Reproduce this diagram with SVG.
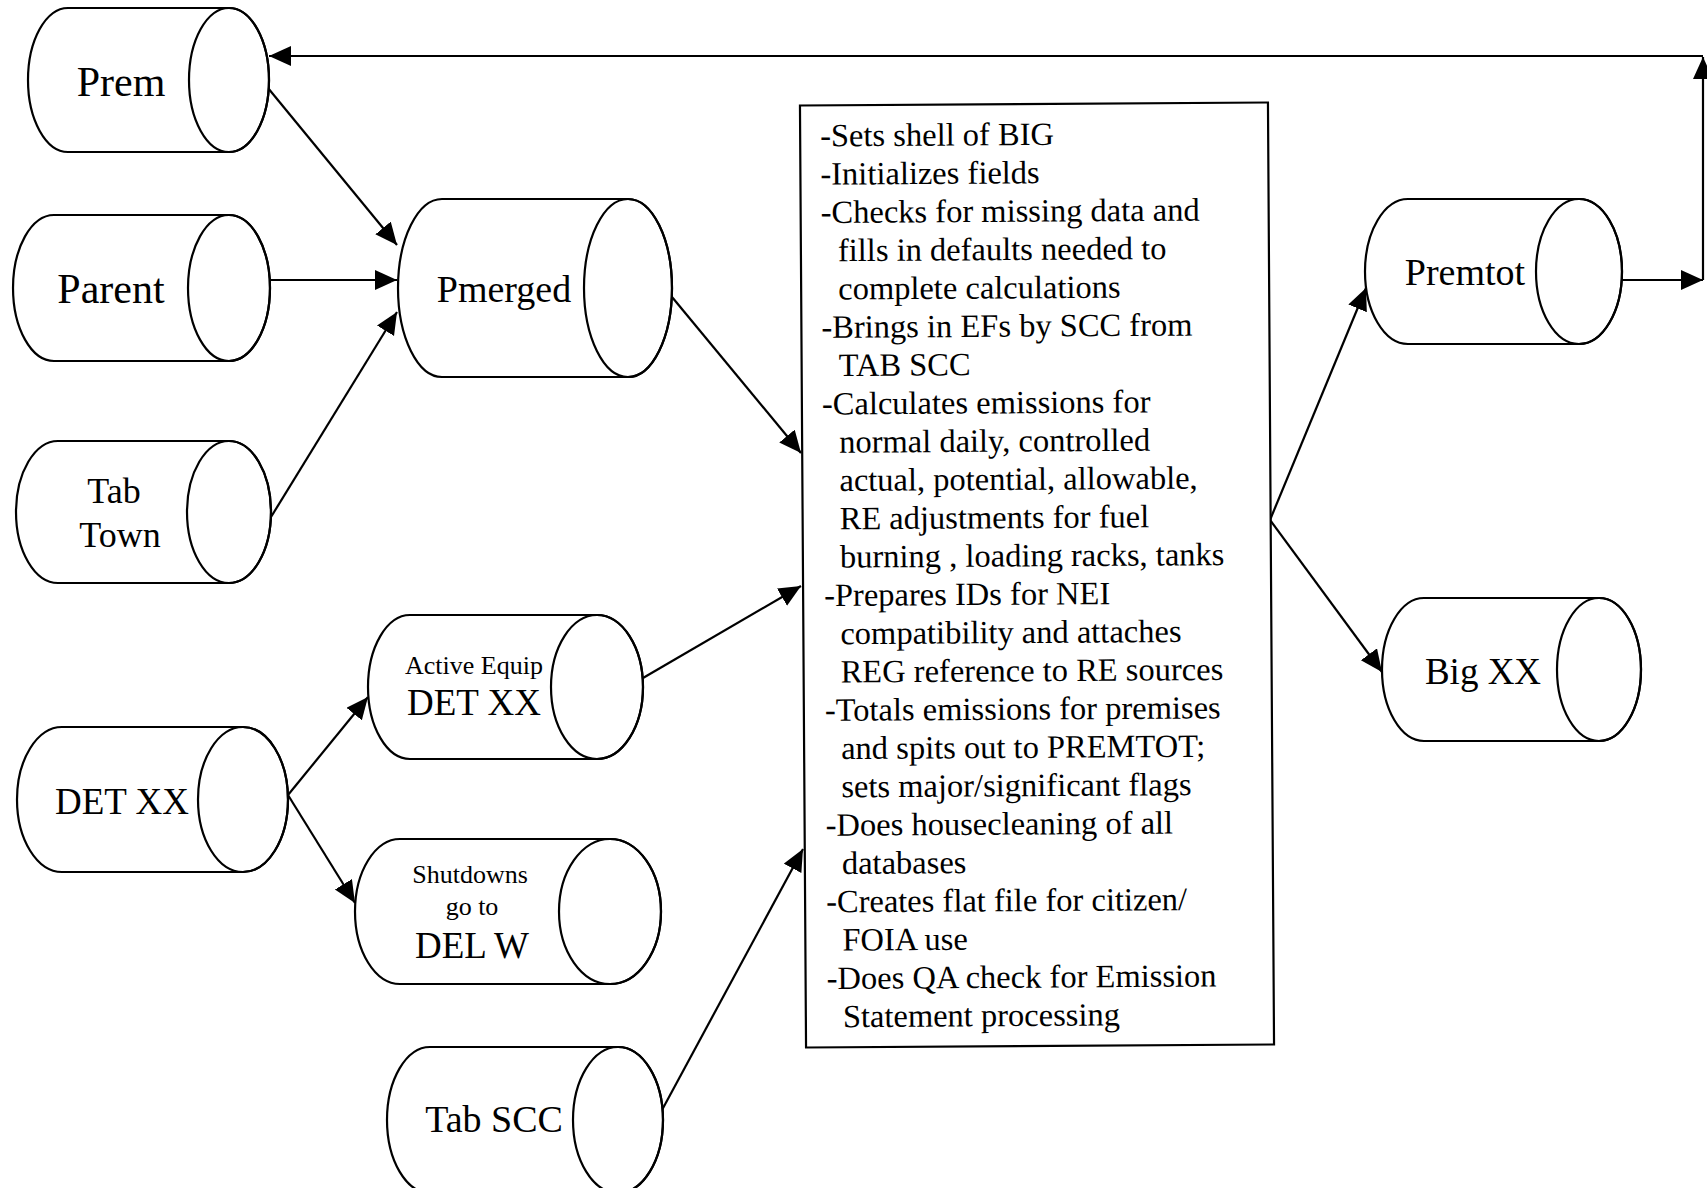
<svg xmlns="http://www.w3.org/2000/svg" width="1707" height="1188" viewBox="0 0 1707 1188">
  <defs>
    <marker id="arrow" markerUnits="userSpaceOnUse" markerWidth="24" markerHeight="22" refX="22" refY="10" orient="auto">
      <path d="M0,0 L22,10 L0,20 z" fill="#000"/>
    </marker>
    <style>
      .cyl { fill: #fff; stroke: #000; stroke-width: 2.2; }
      .end { fill: none; stroke: #000; stroke-width: 2.2; }
      .lbl { font-family: "Liberation Serif", "Times New Roman", serif; fill: #000; text-anchor: middle; }
      .body { font-family: "Liberation Serif", "Times New Roman", serif; fill: #000; font-size: 32.5px; }
      .link { stroke: #000; stroke-width: 2.2; fill: none; marker-end: url(#arrow); }
      .plain { stroke: #000; stroke-width: 2.2; fill: none; }
      .box { fill: #fff; stroke: #000; stroke-width: 2.2; }
    </style>
  </defs>
  <rect width="1707" height="1188" fill="#fff"/>

  <!-- connectors -->
  <g id="connectors">
    <line class="link" x1="268" y1="88" x2="397" y2="245"/>
    <line class="link" x1="270" y1="280" x2="397" y2="280"/>
    <line class="link" x1="271" y1="517" x2="397" y2="312"/>
    <line class="link" x1="672" y1="297" x2="801" y2="453"/>
    <line class="link" x1="643" y1="678" x2="801" y2="586"/>
    <line class="link" x1="662" y1="1110" x2="803" y2="849"/>
    <line class="link" x1="288" y1="795" x2="368" y2="697"/>
    <line class="link" x1="288" y1="795" x2="355" y2="903"/>
    <line class="link" x1="1270" y1="520" x2="1366" y2="288"/>
    <line class="link" x1="1270" y1="520" x2="1382" y2="672"/>
    <line class="link" x1="1622" y1="280" x2="1703" y2="280"/>
    <line class="link" x1="1703" y1="280" x2="1703" y2="57"/>
    <line class="link" x1="1703" y1="56" x2="269" y2="56"/>
  </g>

  <!-- data stores -->
  <g id="prem">
    <path class="cyl" d="M68,8 L229,8 A40,72 0 0 1 229,152 L68,152 A40,72 0 0 1 68,8 Z"/>
    <ellipse class="end" cx="229" cy="80" rx="40" ry="72"/>
    <text class="lbl" x="121" y="96" font-size="42">Prem</text>
  </g>
  <g id="parent">
    <path class="cyl" d="M54,215 L229,215 A41,73 0 0 1 229,361 L54,361 A41,73 0 0 1 54,215 Z"/>
    <ellipse class="end" cx="229" cy="288" rx="41" ry="73"/>
    <text class="lbl" x="111" y="303" font-size="42">Parent</text>
  </g>
  <g id="tab-town">
    <path class="cyl" d="M58,441 L229,441 A42,71 0 0 1 229,583 L58,583 A42,71 0 0 1 58,441 Z"/>
    <ellipse class="end" cx="229" cy="512" rx="42" ry="71"/>
    <text class="lbl" x="114" y="503" font-size="36">Tab</text>
    <text class="lbl" x="120" y="547" font-size="36">Town</text>
  </g>
  <g id="pmerged">
    <path class="cyl" d="M442,199 L628,199 A44,89 0 0 1 628,377 L442,377 A44,89 0 0 1 442,199 Z"/>
    <ellipse class="end" cx="628" cy="288" rx="44" ry="89"/>
    <text class="lbl" x="504" y="302" font-size="38">Pmerged</text>
  </g>
  <g id="det-xx">
    <path class="cyl" d="M62,727 L243,727 A45,72.5 0 0 1 243,872 L62,872 A45,72.5 0 0 1 62,727 Z"/>
    <ellipse class="end" cx="243" cy="799.5" rx="45" ry="72.5"/>
    <text class="lbl" x="122" y="814" font-size="37">DET XX</text>
  </g>
  <g id="active-equip">
    <path class="cyl" d="M410,615 L597,615 A46,72 0 0 1 597,759 L410,759 A42,72 0 0 1 410,615 Z"/>
    <ellipse class="end" cx="597" cy="687" rx="46" ry="72"/>
    <text class="lbl" x="474" y="674" font-size="26">Active Equip</text>
    <text class="lbl" x="474" y="715" font-size="37">DET XX</text>
  </g>
  <g id="shutdowns">
    <path class="cyl" d="M400,839 L610,839 A51,72.5 0 0 1 610,984 L400,984 A45,72.5 0 0 1 400,839 Z"/>
    <ellipse class="end" cx="610" cy="911.5" rx="51" ry="72.5"/>
    <text class="lbl" x="470" y="883" font-size="26">Shutdowns</text>
    <text class="lbl" x="472" y="915" font-size="26">go to</text>
    <text class="lbl" x="472" y="958" font-size="37">DEL W</text>
  </g>
  <g id="tab-scc">
    <path class="cyl" d="M430,1047 L618,1047 A45,73 0 0 1 618,1193 L430,1193 A43,73 0 0 1 430,1047 Z"/>
    <ellipse class="end" cx="618" cy="1120" rx="45" ry="73"/>
    <text class="lbl" x="494" y="1132" font-size="38">Tab SCC</text>
  </g>
  <g id="premtot">
    <path class="cyl" d="M1408,199 L1579,199 A43,72.5 0 0 1 1579,344 L1408,344 A43,72.5 0 0 1 1408,199 Z"/>
    <ellipse class="end" cx="1579" cy="271.5" rx="43" ry="72.5"/>
    <text class="lbl" x="1465" y="285" font-size="38">Premtot</text>
  </g>
  <g id="big-xx">
    <path class="cyl" d="M1424,598 L1599,598 A42,71.5 0 0 1 1599,741 L1424,741 A42,71.5 0 0 1 1424,598 Z"/>
    <ellipse class="end" cx="1599" cy="669.5" rx="42" ry="71.5"/>
    <text class="lbl" x="1483" y="684" font-size="37">Big XX</text>
  </g>

  <!-- processing step -->
  <g id="process" transform="rotate(-0.37 1037 575)">
    <rect class="box" x="803" y="104" width="468" height="942"/>
    <text class="body" x="823" y="145">-Sets shell of BIG</text>
    <text class="body" x="823" y="183.3">-Initializes fields</text>
    <text class="body" x="823" y="221.6">-Checks for missing data and</text>
    <text class="body" x="840" y="259.9">fills in defaults needed to</text>
    <text class="body" x="840" y="298.2">complete calculations</text>
    <text class="body" x="823" y="336.5">-Brings in EFs by SCC from</text>
    <text class="body" x="840" y="374.8">TAB SCC</text>
    <text class="body" x="823" y="413.1">-Calculates emissions for</text>
    <text class="body" x="840" y="451.4">normal daily, controlled</text>
    <text class="body" x="840" y="489.7">actual, potential, allowable,</text>
    <text class="body" x="840" y="528">RE adjustments for fuel</text>
    <text class="body" x="840" y="566.3">burning , loading racks, tanks</text>
    <text class="body" x="824" y="604.6">-Prepares IDs for NEI</text>
    <text class="body" x="840" y="642.9">compatibility and attaches</text>
    <text class="body" x="840" y="681.2">REG reference to RE sources</text>
    <text class="body" x="824" y="719.5">-Totals emissions for premises</text>
    <text class="body" x="840" y="757.8">and spits out to PREMTOT;</text>
    <text class="body" x="840" y="796.1">sets major/significant flags</text>
    <text class="body" x="824" y="834.4">-Does housecleaning of all</text>
    <text class="body" x="840" y="872.7">databases</text>
    <text class="body" x="824" y="911">-Creates flat file for citizen/</text>
    <text class="body" x="840" y="949.3">FOIA use</text>
    <text class="body" x="824" y="987.6">-Does QA check for Emission</text>
    <text class="body" x="840" y="1025.9">Statement processing</text>
  </g>
</svg>
